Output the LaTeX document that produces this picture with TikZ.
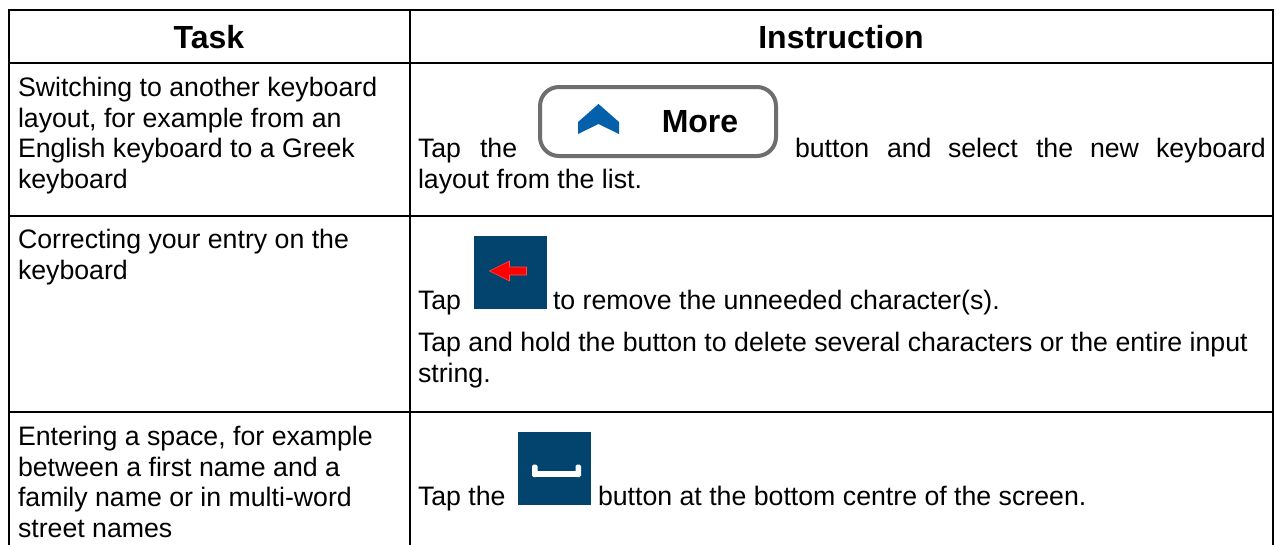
\documentclass[tikz,border=0pt]{standalone}
\usepackage{fontspec}
\setmainfont{Liberation Sans}
\definecolor{navy}{HTML}{03446F}
\definecolor{chev}{HTML}{0560AC}
\definecolor{rim}{HTML}{6E6E6E}
\tikzset{
 rule/.style={draw=black,line width=2.2pt},
 tx/.style={anchor=base west,inner sep=0pt,outer sep=0pt,font=\fontsize{26.7}{30}\selectfont},
 hd/.style={anchor=base,inner sep=0pt,outer sep=0pt,font=\fontsize{32}{36}\selectfont\bfseries},
 icon/.style={fill=navy,draw=none}
}
\begin{document}
\begin{tikzpicture}[x=1pt,y=-1pt]
\useasboundingbox (0,0) rectangle (1276,544);
\fill[white] (0,0) rectangle (1276,544);
\coordinate (tl) at (9,10); \coordinate (tr) at (1273,10);
\coordinate (h1) at (9,63); \coordinate (h2) at (1273,63);
\coordinate (a1) at (9,216); \coordinate (a2) at (1273,216);
\coordinate (b1) at (9,412); \coordinate (b2) at (1273,412);
\coordinate (bl) at (9,546); \coordinate (br) at (1273,546);
\coordinate (m1) at (410,10); \coordinate (m2) at (410,546);
\draw[rule] (bl)--(tl)--(tr)--(br)--cycle;
\draw[rule] (h1)--(h2) (a1)--(a2) (b1)--(b2) (m1)--(m2);
\node[hd] (hA) at (209,48) {Task};
\node[hd] (hB) at (841,48) {Instruction};
\node[tx] (t1) at (18,96) {Switching to another keyboard};
\node[tx] (t2) at (18,127) {layout, for example from an};
\node[tx] (t3) at (18,157) {English keyboard to a Greek};
\node[tx] (t4) at (18,188) {keyboard};
\node[tx] (u1) at (18,248) {Correcting your entry on the};
\node[tx] (u2) at (18,279) {keyboard};
\node[tx] (v1) at (18,445) {Entering a space, for example};
\node[tx] (v2) at (18,476) {between a first name and a};
\node[tx] (v3) at (18,506) {family name or in multi-word};
\node[tx] (v4) at (18,537) {street names};
% row 1
\node[tx] (w1) at (418,157) {Tap};
\node[tx] (w2) at (480,157) {the};
\node[tx] (w3) at (795,157) {button};
\node[tx] (w4) at (887,157) {and};
\node[tx] (w5) at (948,157) {select};
\node[tx] (w6) at (1036,157) {the};
\node[tx] (w7) at (1090,157) {new};
\node[tx] (w8) at (1156,157) {keyboard};
\node[tx] (w9) at (418,188) {layout from the list.};
\draw[rim,line width=4pt,fill=white,rounded corners=19pt] (540,87) rectangle (776,156);
\fill[chev] (578,134) -- (578,122) -- (598.5,104) -- (619,122) -- (619,134) -- (598.5,124) -- cycle;
\node[anchor=base,inner sep=0pt,font=\fontsize{32}{36}\selectfont\bfseries] (more) at (700,132.5) {More};
% row 2
\node[tx] (x1) at (418,309) {Tap};
\fill[icon] (474,236) rectangle (547,309);
\fill[red,draw=red!70!white,line width=.6pt] (489.5,271) -- (509.5,261) -- (509.5,267) -- (526.5,267) -- (526.5,275) -- (509.5,275) -- (509.5,281) -- cycle;
\node[tx] (x2) at (553,309) {to remove the unneeded character(s).};
\node[tx] (x3) at (418,351) {Tap and hold the button to delete several characters or the entire input};
\node[tx] (x4) at (418,382) {string.};
% row 3
\node[tx] (y1) at (418,505) {Tap the};
\fill[icon] (518,432) rectangle (591,505);
\fill[white,rounded corners=1.5pt] (532,464.5) rectangle (537.5,477);
\fill[white,rounded corners=1.5pt] (575.5,464.5) rectangle (581,477);
\fill[white] (533,470.5) rectangle (580,477);
\node[tx] (y2) at (598,505) {button at the bottom centre of the screen.};
\end{tikzpicture}
\end{document}
